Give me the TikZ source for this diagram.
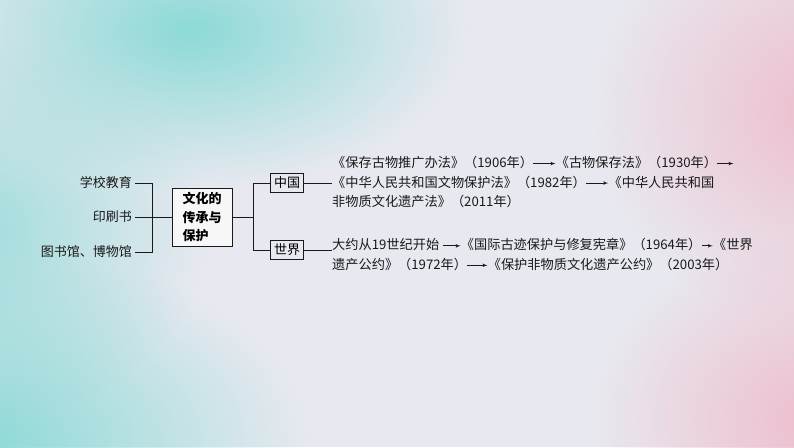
\documentclass[tikz,border=0pt]{standalone}
\usepackage{fontspec}
\setmainfont{Noto Sans CJK SC}
\usetikzlibrary{arrows, fadings}
\definecolor{bgbase}{RGB}{232,233,240}
\definecolor{bgcyan}{RGB}{140,218,215}
\definecolor{bgpink}{RGB}{238,188,205}
\definecolor{ink}{RGB}{25,25,25}
\tikzfading[name=blob, inner color=transparent!0, outer color=transparent!100]
% inline arrow inside the text lines
\newcommand{\jt}[1]{\tikz[baseline=-0.55ex]\draw[-latex', line width=0.7pt, ink] (0,0) -- (#1pt,0);}

\begin{document}
\begin{tikzpicture}[x=1pt, y=-1pt, >=latex',
  box/.style={draw=ink, line width=0.9pt, inner sep=3.5pt},
  lbl/.style={anchor=east, inner sep=0pt, text=ink, font=\fontsize{13}{15}\selectfont},
  txt/.style={anchor=west, inner sep=0pt, align=left, text=ink,
    font=\fontsize{13.2}{19.5}\selectfont},
  link/.style={draw=ink, line width=0.8pt}]
\useasboundingbox (0,0) rectangle (794,447);
% background
\begin{scope}
\clip (0,0) rectangle (794,447);
\fill[bgbase] (0,0) rectangle (794,447);
\fill[bgcyan, path fading=blob] (190,30) ellipse (280 and 160);
\fill[bgcyan, path fading=blob] (-20,440) ellipse (330 and 190);
\fill[bgcyan, opacity=0.8, path fading=blob] (-30,230) ellipse (240 and 190);
\fill[bgpink, path fading=blob] (830,110) ellipse (240 and 220);
\fill[bgpink, path fading=blob] (820,420) ellipse (230 and 190);
\end{scope}

% left side
\node[lbl] at (132,183) (School)  {学校教育};
\node[lbl] at (132,217) (Print)   {印刷书};
\node[lbl] at (132,252) (Library) {图书馆、博物馆};
\coordinate (fakeL) at (152,217);
\draw[link] (School.east) ++(3,0) -| (fakeL);
\draw[link] (Library.east) ++(3,0) -| (fakeL);
\draw[link] (Print.east) ++(3,0) -- (fakeL);

\node[box, fill=gray!6, minimum width=60pt, minimum height=58pt,
  align=left, font=\fontsize{13}{18.5}\selectfont\bfseries] at (202,217) (Core)
  {文化的\\传承与\\保护};
\draw[link] (fakeL) -- (Core.west);

% right side
\coordinate (fakeR) at (253,217);
\draw[link] (Core.east) -- (fakeR);
\node[box, font=\fontsize{13}{15}\selectfont] at (287,183) (China) {中国};
\node[box, font=\fontsize{13}{15}\selectfont] at (287,250) (World) {世界};
\draw[link] (fakeR) |- (China.west);
\draw[link] (fakeR) |- (World.west);

\node[txt] at (332,182) (ChinaT)
  {《保存古物推广办法》（1906年）\jt{22}《古物保存法》（1930年）\jt{16}\\
   《中华人民共和国文物保护法》（1982年）\jt{22}《中华人民共和国\\
   非物质文化遗产法》（2011年）};
\node[txt] at (332,254.5) (WorldT)
  {大约从19世纪开始 \jt{18}《国际古迹保护与修复宪章》（1964年）\jt{11}《世界\\
   遗产公约》（1972年）\jt{20}《保护非物质文化遗产公约》（2003年）};
\draw[link] (China.east) -- (ChinaT.west |- China.east);
\draw[link] (World.east) -- (WorldT.west |- World.east);
\end{tikzpicture}
\end{document}
